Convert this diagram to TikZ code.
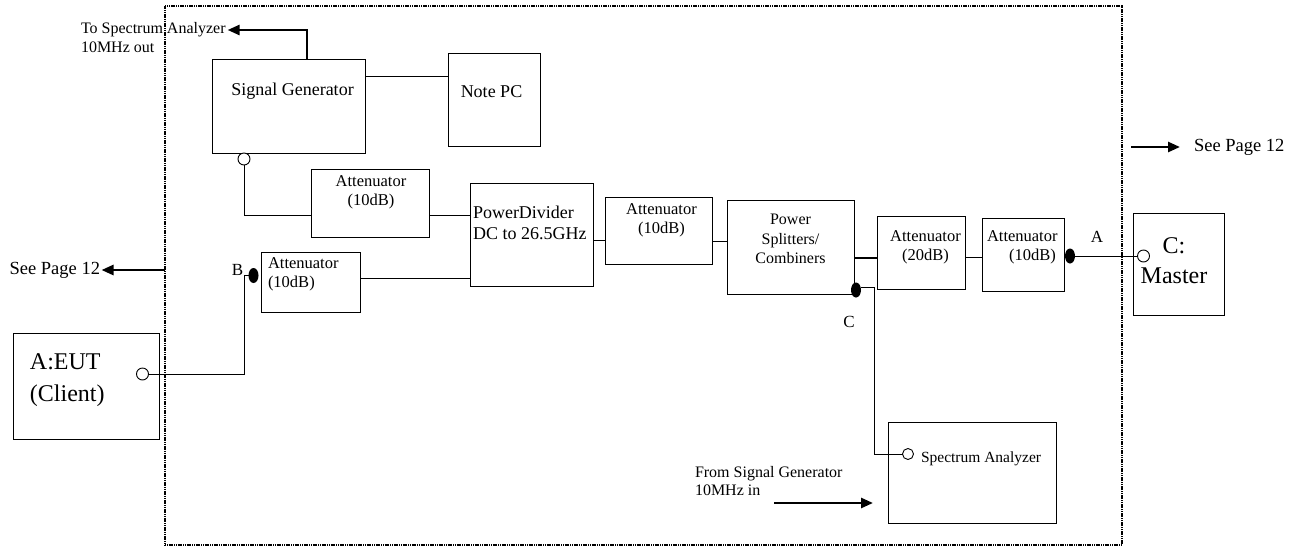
\documentclass[tikz,border=0pt]{standalone}
\usepackage{fontspec}
\setmainfont{Liberation Serif}
\usetikzlibrary{arrows.meta,shapes.geometric,calc}
\begin{document}
\begin{tikzpicture}[x=1pt,y=-1pt,
  box/.style={draw, line width=1pt, inner sep=0pt, outer sep=0pt},
  frame/.style={draw, line width=2pt, dash pattern=on 1.2pt off 0.6pt, inner sep=0pt, outer sep=0pt},
  conn/.style={line width=0.9pt},
  thickconn/.style={line width=2.6pt},
  bigarrow/.style={line width=2.6pt, line join=miter, -{Triangle[length=12pt,width=10pt]}},
  port/.style={circle, draw, fill=white, line width=0.9pt, minimum size=12pt, inner sep=0pt, outer sep=0pt},
  jdot/.style={ellipse, fill=black, minimum width=10pt, minimum height=15pt, inner sep=0pt, outer sep=0pt},
  txt/.style={inner sep=0pt, outer sep=0pt},
  fa/.style={font=\fontsize{16.5}{19}\selectfont},
  fb/.style={font=\fontsize{18}{21}\selectfont},
  fc/.style={font=\fontsize{16}{19.5}\selectfont},
  fs/.style={font=\fontsize{16}{17}\selectfont},
]
\useasboundingbox (0,0) rectangle (1302,547);

% outer frame
\node[frame, minimum width=957pt, minimum height=539pt] (frame) at (643.5,275.5) {};

% boxes
\node[box, minimum width=153pt, minimum height=94pt] (SG) at (288.5,106) {};
\node[box, minimum width=92pt, minimum height=93pt] (PC) at (494,99.5) {};
\node[box, minimum width=118pt, minimum height=68pt] (att1) at (370,203) {};
\node[box, minimum width=99pt, minimum height=60pt] (att2) at (310.5,282) {};
\node[box, minimum width=123pt, minimum height=103pt] (PD) at (531.5,234.5) {};
\node[box, minimum width=107pt, minimum height=67pt] (att3) at (658.5,230.5) {};
\node[box, minimum width=127pt, minimum height=94pt] (PS) at (790.5,247) {};
\node[box, minimum width=88pt, minimum height=73pt] (att4) at (921,252.5) {};
\node[box, minimum width=82pt, minimum height=73pt] (att5) at (1023,254.5) {};
\node[box, minimum width=91pt, minimum height=102pt] (MS) at (1178.5,264) {};
\node[box, minimum width=146pt, minimum height=106pt] (EUT) at (86,386) {};
\node[box, minimum width=168pt, minimum height=101pt] (SA) at (972,472.5) {};

% texts in boxes
\node[txt, fb] (tSG) at (292.5,91) {Signal Generator};
\node[txt, fb] (tPC) at (491.5,92) {Note PC};
\node[txt, fa, align=center] (t1) at (371,192.5) {Attenuator\\(10dB)};
\node[txt, fa, align=left, anchor=west] (t2) at (268,274) {Attenuator\\(10dB)};
\node[txt, fb, align=left, anchor=west] (tPD) at (473,222.5) {PowerDivider\\DC to 26.5GHz};
\node[txt, fa, align=center] (t3) at (661.5,220.5) {Attenuator\\(10dB)};
\node[txt, fc, align=center] (tPS) at (790.5,239) {Power\\Splitters/\\Combiners};
\node[txt, fa, align=center] (t4) at (925.5,247) {Attenuator\\(20dB)};
\node[txt, fa, align=left, anchor=west] (t5) at (987,247) {Attenuator\\\hspace*{22pt}(10dB)};
\node[txt, font=\fontsize{24}{30}\selectfont, align=center] (tMS) at (1174,261) {C:\\Master};
\node[txt, font=\fontsize{24}{32}\selectfont, align=left, anchor=west] (tEUT) at (30,380.5) {A:EUT\\(Client)};
\node[txt, font=\fontsize{15.5}{17}\selectfont, anchor=west] (tSA) at (921,459) {Spectrum Analyzer};

% labels outside boxes
\node[txt, fs, anchor=west] (tosa1) at (81,30) {To Spectrum Analyzer};
\node[txt, fs, anchor=west] (tosa2) at (81,47) {10MHz out};
\node[txt, fs, anchor=west] (fsg1) at (695,474) {From Signal Generator};
\node[txt, fs, anchor=west] (fsg2) at (695,490) {10MHz in};
\node[txt, font=\fontsize{18.5}{20}\selectfont, anchor=east] (sp1) at (100,270) {See Page 12};
\node[txt, font=\fontsize{18.5}{20}\selectfont, anchor=west] (sp2) at (1194,147) {See Page 12};
\node[txt, font=\fontsize{17}{20}\selectfont] (lA) at (1097,237) {A};
\node[txt, font=\fontsize{17}{20}\selectfont] (lB) at (237.5,270) {B};
\node[txt, font=\fontsize{17}{20}\selectfont] (lC) at (849,322) {C};

% junction positions
\coordinate (cB) at (253.5,275.5);
\coordinate (cC) at (856,290);
\coordinate (cA) at (1070,256);

% connectors
\draw[conn] ([yshift=-17pt]SG.north east) -- ([yshift=-23pt]PC.north west);
\draw[conn] (244,159) |- ([yshift=-12pt]att1.west);
\draw[conn] ([yshift=-12pt]att1.east) -- ([yshift=19.5pt]PD.west);
\draw[conn] ([yshift=4pt]att2.east) -- ([yshift=-43.5pt]PD.west);
\draw[conn] ([yshift=-6pt]PD.east) -- ([yshift=-10pt]att3.west);
\draw[conn] ([yshift=-10.5pt]att3.east) -- ([yshift=6pt]PS.west);
\draw[thickconn] ([yshift=-11pt]PS.east) -- ([yshift=-5.5pt]att4.west);
\draw[conn] ([yshift=-4.5pt]att4.east) -- ([yshift=-2.5pt]att5.west);

\node[port] (sgp) at (244,159) {};
\node[port] (eutp) at (142.5,374) {};
\node[port] (msp) at (1143.5,256) {};
\node[port, minimum size=11pt] (sap) at (908,454) {};
\node[jdot] (dB) at (cB) {};
\node[jdot] (dC) at (cC) {};
\node[jdot] (dA) at (cA) {};

\draw[conn] (dA.east) -- (msp.west);
\draw[conn] (eutp.east) -| ([xshift=-4.5pt]dB.west) -- (dB.west);
\draw[conn] ([yshift=3pt]dC.east) -- ++(13pt,0) |- (sap.west);

% thick arrows
\draw[bigarrow] ([xshift=18.5pt]SG.north) |- ([xshift=2pt]tosa1.east);
\draw[bigarrow] (frame.west |- sp1.east) -- ([xshift=1.5pt]sp1.east);
\draw[bigarrow] ([xshift=-63pt]sp2.west) -- ([xshift=-14pt]sp2.west);
\draw[bigarrow] ([xshift=-114pt,yshift=-30.5pt]SA.west) -- ([xshift=-15pt,yshift=-30.5pt]SA.west);
\end{tikzpicture}
\end{document}
